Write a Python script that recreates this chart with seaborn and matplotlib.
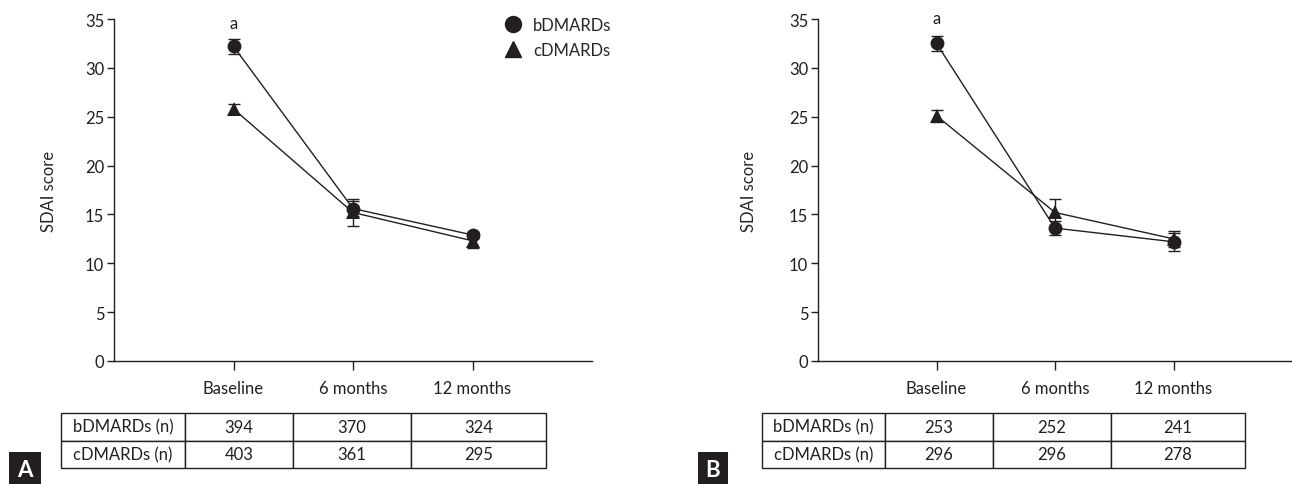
import numpy as np
import pandas as pd
import matplotlib
matplotlib.use("Agg")
import matplotlib.pyplot as plt
from matplotlib.lines import Line2D
import seaborn as sns

# data
timepoints = ["Baseline", "6 months", "12 months"]
groups = ["bDMARDs", "cDMARDs"]

a_bdmard = [32.2, 15.6, 12.9]
a_bdmard_err = [0.75, 0.8, 0.3]
a_cdmard = [25.8, 15.2, 12.3]
a_cdmard_err = [0.5, 1.35, 0.75]
a_n_bdmard = [394, 370, 324]
a_n_cdmard = [403, 361, 295]

b_bdmard = [32.5, 13.6, 12.2]
b_bdmard_err = [0.75, 0.7, 0.9]
b_cdmard = [25.1, 15.2, 12.5]
b_cdmard_err = [0.6, 1.4, 0.8]
b_n_bdmard = [253, 252, 241]
b_n_cdmard = [296, 296, 278]

INK = "#231f20"
FS = 12

sns.set_theme(style="ticks")
plt.rcParams['font.family'] = ['Lato', 'DejaVu Sans']
plt.rcParams['axes.linewidth'] = 1.0
plt.rcParams['axes.edgecolor'] = INK

W, H = 1292, 485
fig = plt.figure(figsize=(W / 100, H / 100), dpi=100)


def px_axes(x0, y0, x1, y1):
    # pixel box (top-left origin) -> figure axes
    return fig.add_axes([x0 / W, 1 - y1 / H, (x1 - x0) / W, (y1 - y0) / H])


def panel(ax, bvals, berr, cvals, cerr, a_y, label_x, legend=False):
    x = np.arange(1, 4)
    df = pd.DataFrame({
        "x": np.concatenate([x, x]),
        "score": bvals + cvals,
        "group": [groups[0]] * 3 + [groups[1]] * 3,
    })
    sns.lineplot(data=df, x="x", y="score", hue="group", style="group",
                 markers={"bDMARDs": "o", "cDMARDs": "^"}, dashes=False,
                 palette={"bDMARDs": INK, "cDMARDs": INK},
                 markersize=10, linewidth=1.0, markeredgewidth=0,
                 legend=False, ax=ax, zorder=3)
    ax.errorbar(x, bvals, yerr=berr, fmt="none", ecolor=INK,
                elinewidth=1.0, capsize=4.5, capthick=1.0, zorder=2)
    ax.errorbar(x, cvals, yerr=cerr, fmt="none", ecolor=INK,
                elinewidth=1.0, capsize=4.5, capthick=1.0, zorder=2)
    ax.set_xlim(0, 4)
    ax.set_ylim(0, 35)
    ax.set_yticks(range(0, 36, 5))
    ax.set_xticks(x)
    ax.set_xticklabels(timepoints)
    ax.set_xlabel("")
    ax.set_ylabel("SDAI score", fontsize=FS)
    ax.yaxis.set_label_coords(label_x, 0.5)
    ax.tick_params(axis="both", direction="out", width=1.0,
                   labelsize=FS, colors=INK)
    ax.tick_params(axis="y", length=5, pad=2)
    ax.tick_params(axis="x", length=6.5, pad=7)
    sns.despine(ax=ax)
    ax.text(1, a_y, "a", ha="center", va="center", fontsize=FS,
            color=INK, clip_on=False)
    if legend:
        handles = [Line2D([], [], color=INK, marker=m, linestyle="none",
                          markersize=11.5) for m in ["o", "^"]]
        ax.legend(handles, groups, loc="center left",
                  bbox_to_anchor=(503 / W, 1 - 38.5 / H),
                  bbox_transform=fig.transFigure, frameon=False, fontsize=FS,
                  handletextpad=0.6, labelspacing=0.55, handlelength=1.2,
                  borderaxespad=0, borderpad=0)


def ntable(edges, nb, nc):
    tax = px_axes(edges[0], 414, edges[-1], 469)
    tax.axis("off")
    cells = [["bDMARDs (n)"] + [str(v) for v in nb],
             ["cDMARDs (n)"] + [str(v) for v in nc]]
    widths = np.diff(edges)
    tb = tax.table(cellText=cells, colWidths=list(widths / widths.sum()),
                   bbox=[0, 0, 1, 1], cellLoc="center")
    tb.auto_set_font_size(False)
    tb.set_fontsize(FS)
    for (r, c), cell in tb.get_celld().items():
        cell.set_linewidth(1.0)
        cell.set_edgecolor(INK)
        cell.get_text().set_color(INK)


def tag(x0, x1, letter):
    bax = px_axes(x0, 453, x1, 485)
    bax.set_facecolor(INK)
    bax.set_xticks([])
    bax.set_yticks([])
    for s in bax.spines.values():
        s.set_visible(False)
    bax.text(0.5, 0.45, letter, color="white", fontsize=16, fontweight="bold",
             ha="center", va="center", transform=bax.transAxes)


ax_a = px_axes(114, 20, 592, 362)
panel(ax_a, a_bdmard, a_bdmard_err, a_cdmard, a_cdmard_err, 34.6,
      (57 - 114) / 478, legend=True)
ax_b = px_axes(818, 20, 1292, 362)
panel(ax_b, b_bdmard, b_bdmard_err, b_cdmard, b_cdmard_err, 35.1,
      (757 - 818) / 474)

ntable([61, 185, 293, 411, 546], a_n_bdmard, a_n_cdmard)
ntable([762, 885, 993, 1111, 1245], b_n_bdmard, b_n_cdmard)

tag(9, 41, "A")
tag(698, 728, "B")

fig.savefig("out.png", dpi=100, facecolor="white")
